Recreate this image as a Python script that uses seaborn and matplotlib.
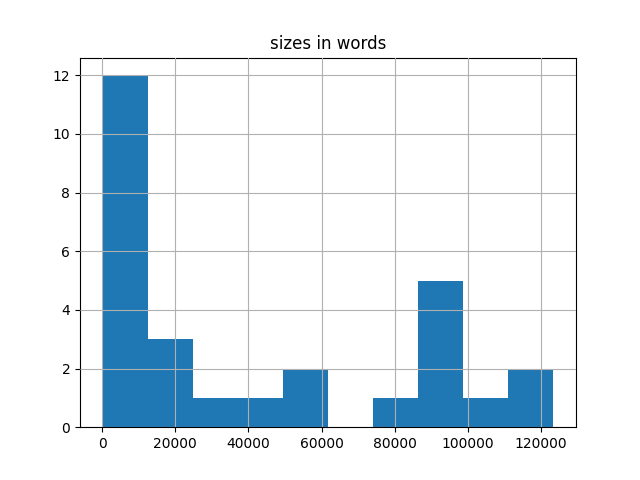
import numpy as np
import matplotlib
matplotlib.use("Agg")
import matplotlib.pyplot as plt
import pandas as pd
import seaborn as sns

# word counts of the documents
sizes = [100, 2100, 3500, 4800, 5600, 6900, 7700, 8400, 9300, 10200, 11100, 12000,
         14500, 18800, 23000,
         30500,
         45000,
         52000, 58800,
         81000,
         87500, 89900, 91500, 94000, 97200,
         104000,
         113500, 123400]

df = pd.DataFrame({"sizes in words": sizes})

fig, ax = plt.subplots(figsize=(6.4, 4.8), dpi=100)
sns.histplot(data=df, x="sizes in words", bins=10, ax=ax, color="#1f77b4",
             alpha=1.0, edgecolor="none", linewidth=0)
ax.grid(True, color="#b0b0b0", linewidth=0.8)
ax.set_axisbelow(False)
for p in ax.patches:
    p.set_zorder(1)
ax.set_title("sizes in words")
ax.set_xlabel("")
ax.set_ylabel("")
ax.set_xticks([0, 20000, 40000, 60000, 80000, 100000, 120000])

fig.savefig("out.png", dpi=100)
